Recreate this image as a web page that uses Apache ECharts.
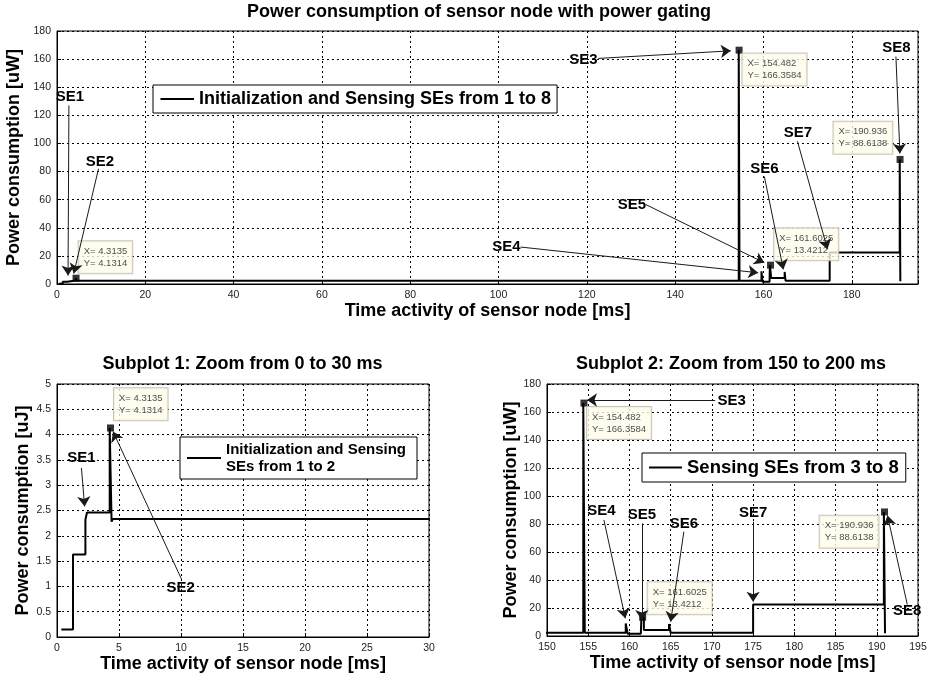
<!DOCTYPE html>
<html><head><meta charset="utf-8">
<script src="https://cdn.jsdelivr.net/npm/echarts@6/dist/echarts.min.js"></script>
<style>html,body{margin:0;padding:0;background:#fff}#c{width:928px;height:679px}</style>
</head><body><div id="c"></div>
<script>
// ---------------- data ----------------
// stair (MATLAB "stairs") description of the power trace: level held from each time until the next
const stairTimeMs = [0.35, 1.29, 2.29, 2.42, 4.25, 4.40, 4.50, 154.40, 154.58, 159.55, 159.78, 161.38, 161.45, 161.75, 164.80, 165.00, 175.00, 190.86, 191.00];
const stairPower  = [0.15, 1.63, 2.32, 2.46, 4.1314, 2.28, 2.33, 166.3584, 2.33, 9.0, 1.6, 2.8, 13.4212, 4.3, 8.6, 2.33, 22.5, 88.6138, 2.0];

// data tips
const tipTimeMs = [4.3135, 154.482, 161.6025, 190.936];
const tipPower  = [4.1314, 166.3584, 13.4212, 88.6138];
const tipTextX  = ['4.3135', '154.482', '161.6025', '190.936'];
const tipTextY  = ['4.1314', '166.3584', '13.4212', '88.6138'];

// axis tick settings [min, max, step]
const topXTicks  = [0, 195, 20];
const topYTicks  = [0, 180, 20];
const sub1XTicks = [0, 30, 5];
const sub1YTicks = [0, 5, 0.5];
const sub2XTicks = [150, 195, 5];
const sub2YTicks = [0, 180, 20];

// annotation layout: [label, text position, arrow start, arrow end] in data units
const topNotes = [
  ['SE1', [2.9, 133], [2.7, 127], [2.5, 6]],
  ['SE2', [9.7, 87], [9.4, 82], [3.8, 7.5]],
  ['SE3', [119.2, 159.7], [122.6, 160.5], [152.6, 165.9]],
  ['SE4', [101.8, 26.5], [105.0, 26.3], [158.8, 8.0]],
  ['SE5', [130.2, 56.1], [133.3, 56.6], [160.2, 15.1]],
  ['SE6', [160.2, 82.2], [160.2, 76.5], [164.5, 10.4]],
  ['SE7', [167.8, 107.8], [167.7, 101.5], [174.5, 24.7]],
  ['SE8', [190.1, 168], [190.0, 161.8], [190.9, 92.9]]
];
const sub1Notes = [
  ['SE1', [1.97, 3.55], [1.97, 3.34], [2.23, 2.58]],
  ['SE2', [9.97, 0.97], [10.03, 1.15], [4.52, 4.06]]
];
const sub2Notes = [
  ['SE3', [172.4, 168], [170.4, 168.6], [154.85, 168.6]],
  ['SE4', [156.6, 89.3], [156.9, 82.9], [159.5, 12.6]],
  ['SE5', [161.5, 86.4], [161.5, 80.5], [161.5, 11.4]],
  ['SE6', [166.6, 80], [166.6, 74.5], [165.0, 10.2]],
  ['SE7', [175.0, 88.1], [175.0, 81.6], [175.0, 24.5]],
  ['SE8', [193.7, 17.9], [193.7, 22.5], [191.3, 86.0]]
];

// ---------------- chart ----------------
const FONT = '"Liberation Sans", Arial, Helvetica, sans-serif';
const stairData = stairTimeMs.map((t, i) => [t, stairPower[i]]);

const panels = [
  { grid: {left: 57, top: 31, width: 861, height: 253}, xt: topXTicks, yt: topYTicks, hideXMax: true,
    title: 'Power consumption of sensor node with power gating', titleLeft: 479, titleTop: 3,
    yName: 'Power consumption [uW]', yNameGap: 28, xNameGap: 18,
    seriesName: 'Initialization and Sensing SEs from 1 to 8',
    legend: {left: 153, top: 85, padding: [5, 6, 5, 7.5], itemWidth: 33.5, fontSize: 18, lineHeight: 18},
    tips: [[0, [2.6, -37], 'left'], [1, [3.3, 3.4], 'left'], [2, [3.6, -36.8], 'left'], [3, [-7.7, -37.6], 'right']],
    notes: topNotes },
  { grid: {left: 57, top: 384, width: 372, height: 253}, xt: sub1XTicks, yt: sub1YTicks, hideXMax: false,
    title: 'Subplot 1: Zoom from 0 to 30 ms', titleLeft: 242.5, titleTop: 355,
    yName: 'Power consumption [uJ]', yNameGap: 25, xNameGap: 17,
    seriesName: 'Initialization and Sensing\nSEs from 1 to 2',
    legend: {left: 180, top: 437, padding: [4, 11, 4, 7], itemWidth: 34, fontSize: 15, lineHeight: 17},
    tips: [[0, [3.5, -39.7], 'left']],
    notes: sub1Notes },
  { grid: {left: 547, top: 384, width: 371, height: 252}, xt: sub2XTicks, yt: sub2YTicks, hideXMax: false,
    title: 'Subplot 2: Zoom from 150 to 200 ms', titleLeft: 731, titleTop: 355,
    yName: 'Power consumption [uW]', yNameGap: 27, xNameGap: 17,
    seriesName: 'Sensing SEs from 3 to 8',
    legend: {left: 642, top: 453, padding: [5, 7, 5, 7], itemWidth: 33, fontSize: 18.5, lineHeight: 18},
    tips: [[1, [3, 4], 'left'], [2, [5, -35], 'left'], [3, [-6, 3.8], 'right']],
    notes: sub2Notes }
];

const option = {animation: false, backgroundColor: '#fff', title: [], grid: [], xAxis: [], yAxis: [], legend: [], series: []};
const MK = 7; // marker size

panels.forEach((p, i) => {
  option.title.push({text: p.title, left: p.titleLeft, top: p.titleTop, textAlign: 'center', padding: 0,
    textStyle: {fontFamily: FONT, fontSize: 18, fontWeight: 'bold', color: '#000'}});
  option.grid.push(Object.assign({show: true, borderColor: '#000', borderWidth: 1, backgroundColor: '#fff',
    containLabel: false, outerBoundsMode: 'none'}, p.grid));
  const axisCommon = {
    axisLine: {show: true, onZero: false, lineStyle: {color: '#000', width: 1}},
    axisTick: {show: true, inside: true, length: 4, lineStyle: {color: '#000'}},
    splitLine: {show: true, lineStyle: {color: '#000', width: 1, type: [2, 3]}},
    nameTextStyle: {fontFamily: FONT, fontSize: 18, fontWeight: 'bold', color: '#000'}
  };
  option.xAxis.push(Object.assign({type: 'value', gridIndex: i, min: p.xt[0], max: p.xt[1], interval: p.xt[2],
    name: 'Time activity of sensor node [ms]', nameLocation: 'middle', nameGap: p.xNameGap,
    axisLabel: {color: '#222', fontFamily: FONT, fontSize: 10.5, margin: 6,
      formatter: v => (p.hideXMax && v === p.xt[1]) ? '' : String(v)}}, axisCommon));
  option.yAxis.push(Object.assign({type: 'value', gridIndex: i, min: p.yt[0], max: p.yt[1], interval: p.yt[2],
    name: p.yName, nameLocation: 'middle', nameGap: p.yNameGap,
    axisLabel: {color: '#222', fontFamily: FONT, fontSize: 10.5, margin: 6}}, axisCommon));

  option.legend.push({data: [p.seriesName], left: p.legend.left, top: p.legend.top, padding: p.legend.padding,
    orient: 'horizontal', icon: 'rect', itemWidth: p.legend.itemWidth, itemHeight: 2, itemGap: 0,
    selectedMode: false, borderColor: '#000', borderWidth: 1, backgroundColor: '#fff', borderRadius: 0,
    textStyle: {fontFamily: FONT, fontSize: p.legend.fontSize, lineHeight: p.legend.lineHeight, fontWeight: 'bold', color: '#000'}});

  // the power trace
  option.series.push({type: 'line', name: p.seriesName, xAxisIndex: i, yAxisIndex: i, data: stairData,
    step: 'end', symbol: 'none', showSymbol: false, clip: true, silent: true, z: 2,
    lineStyle: {color: '#000', width: 2}, itemStyle: {color: '#000'}});

  // data tip markers + boxes
  option.series.push({type: 'scatter', name: 'tips' + i, xAxisIndex: i, yAxisIndex: i, symbol: 'rect', symbolSize: MK,
    clip: false, silent: true, z: 3, itemStyle: {color: '#000'},
    data: p.tips.map(([k, off, al]) => ({
      value: [tipTimeMs[k], tipPower[k]],
      label: {show: true, position: [off[0] + MK / 2, off[1] + MK / 2], align: al, verticalAlign: 'top',
        formatter: 'X= ' + tipTextX[k] + '\nY= ' + tipTextY[k],
        fontFamily: FONT, fontSize: 9.5, lineHeight: 12, color: '#222',
        backgroundColor: '#FFFCEB', borderColor: '#BDB6A6', borderWidth: 1, padding: [4, 5, 4, 5]}
    }))});

  // arrows
  option.series.push({type: 'lines', name: 'arrows' + i, coordinateSystem: 'cartesian2d', xAxisIndex: i, yAxisIndex: i,
    silent: true, z: 4, symbol: ['none', 'arrow'], symbolSize: 10,
    lineStyle: {color: '#1a1a1a', width: 1, opacity: 1, curveness: 0},
    data: p.notes.map(n => ({coords: [n[2], n[3]]}))});

  // SE labels
  option.series.push({type: 'scatter', name: 'notes' + i, xAxisIndex: i, yAxisIndex: i, symbolSize: 1,
    clip: false, silent: true, z: 5, itemStyle: {color: 'rgba(0,0,0,0)'},
    label: {show: true, position: [0.5, 0.5], align: 'center', verticalAlign: 'middle', formatter: '{b}',
      fontFamily: FONT, fontSize: 15, fontWeight: 'bold', color: '#000', textBorderWidth: 0, opacity: 1},
    data: p.notes.map(n => ({name: n[0], value: n[1]}))});
});

const chart = echarts.init(document.getElementById('c'), null, {renderer: 'canvas', width: 928, height: 679});
chart.setOption(option);
</script>
</body></html>
